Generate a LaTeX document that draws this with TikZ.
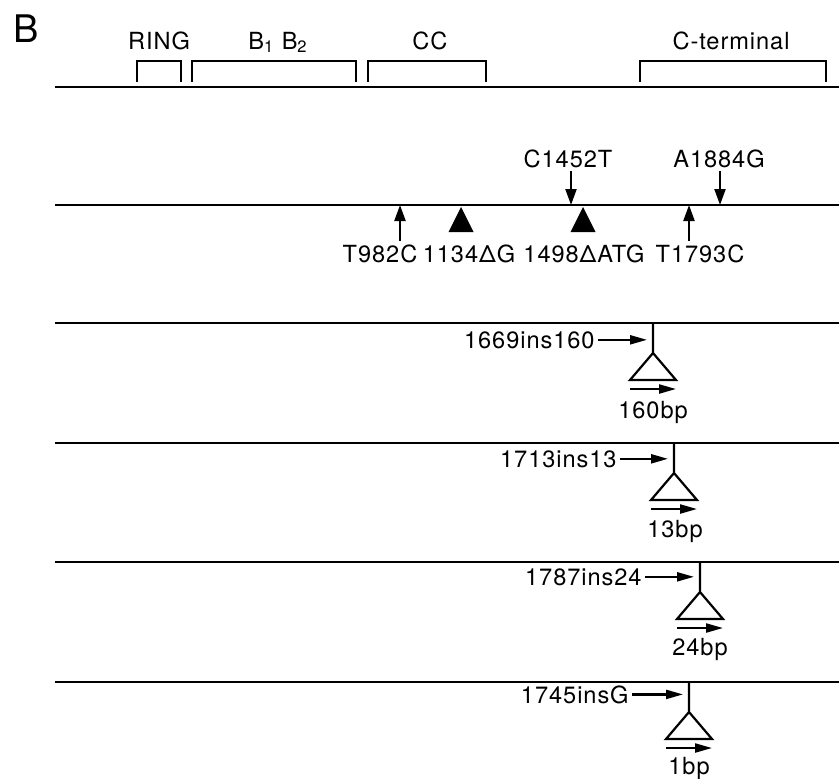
\documentclass[tikz,border=0pt]{standalone}
\usepackage{fontspec}
\usepackage{tikz}
\usetikzlibrary{arrows.meta, calc}
\newfontfamily\lblfont{TeX Gyre Heros}[LetterSpace=4]

\begin{document}
\begin{tikzpicture}[
    x=0.5pt, y=-0.5pt,
    seq/.style={line width=1.4pt},
    bracketline/.style={line width=0.8pt},
    lbl/.style={font=\lblfont\fontsize{11.8}{14}\selectfont, inner sep=1.5pt},
    mut/.style={line width=1.1pt, -{Triangle[length=8pt, width=5.5pt]}},
    ptr/.style={line width=1.1pt, -{Triangle[length=8.5pt, width=4.5pt]}},
    ins/.style={line width=1.1pt, line join=miter}
]
\useasboundingbox (0,0) rectangle (839,778);

% Panel letter
\node[font=\lblfont\fontsize{19}{22}\selectfont, anchor=base] (panel) at (26,42) {B};

% Domains
\draw[seq] (55,87) -- (839,87);
\draw[bracketline] (137,82) |- (181,61) -- (181,82);
\draw[bracketline] (192,82) |- (356,61) -- (356,82);
\draw[bracketline] (368,82) |- (486,61) -- (486,82);
\draw[bracketline] (640,82) |- (826,61) -- (826,82);
\node[lbl, anchor=base] (ring) at (159,49) {RING};
\node[lbl, anchor=base] (bbox) at (278,49) {B\textsubscript{1} B\textsubscript{2}};
\node[lbl, anchor=base] (cc) at (430,49) {CC};
\node[lbl, anchor=base] (cterm) at (731,49) {C-terminal};

% Point mutations and deletions
\draw[seq] (55,205) -- (839,205);
\coordinate (m982) at (400,205);
\coordinate (m1134) at (461,205);
\coordinate (m1452) at (571,205);
\coordinate (m1498) at (583,205);
\coordinate (m1793) at (689,205);
\coordinate (m1884) at (720,205);
\node[lbl, anchor=base] (c1452) at (568,167) {C1452T};
\node[lbl, anchor=base] (a1884) at (719,167) {A1884G};
\node[lbl, anchor=base] (t982) at (380,262) {T982C};
\node[lbl, anchor=base] (d1134) at (469,262) {1134ΔG};
\node[lbl, anchor=base] (d1498) at (584,262) {1498ΔATG};
\node[lbl, anchor=base] (t1793) at (700,262) {T1793C};
\draw[mut] (m1452 |- c1452.south) -- (m1452);
\draw[mut] (m1884 |- a1884.south) -- (m1884);
\draw[mut] (m982 |- t982.north) -- (m982);
\draw[mut] (m1793 |- t1793.north) -- (m1793);
\fill (m1134) ++(0,2) -- ++(-12.5,25) -- ++(25,0) -- cycle;
\fill (m1498) ++(0,2) -- ++(-12.5,25) -- ++(25,0) -- cycle;

% Insertion 1669ins160
\draw[seq] (55,323) -- (839,323);
\coordinate (p1669) at (653,323);
\draw[ins] (p1669) -- ++(0,30) -- ++(-23,27) -- ++(46,0) -- ++(-23,-27);
\node[lbl, anchor=base east] (i1669) at (598,348) {1669ins160};
\draw[ptr, shorten >=3pt] (i1669.east) -- (i1669.east -| p1669);
\draw[ptr] (p1669) ++(-23,66) -- ++(46,0);
\node[lbl, anchor=base] (bp160) at (653,418) {160bp};

% Insertion 1713ins13
\draw[seq] (55,443) -- (839,443);
\coordinate (p1713) at (674,443);
\draw[ins] (p1713) -- ++(0,30) -- ++(-23,27) -- ++(46,0) -- ++(-23,-27);
\node[lbl, anchor=base east] (i1713) at (620,467) {1713ins13};
\draw[ptr, shorten >=3pt] (i1713.east) -- (i1713.east -| p1713);
\draw[ptr] (p1713) ++(-23,66) -- ++(46,0);
\node[lbl, anchor=base] (bp13) at (675,537) {13bp};

% Insertion 1787ins24
\draw[seq] (55,562) -- (839,562);
\coordinate (p1787) at (700,562);
\draw[ins] (p1787) -- ++(0,30) -- ++(-23,27) -- ++(46,0) -- ++(-23,-27);
\node[lbl, anchor=base east] (i1787) at (645,585) {1787ins24};
\draw[ptr, shorten >=3pt] (i1787.east) -- (i1787.east -| p1787);
\draw[ptr] (p1787) ++(-23,66) -- ++(46,0);
\node[lbl, anchor=base] (bp24) at (700,655) {24bp};

% Insertion 1745insG
\draw[seq] (55,682) -- (839,682);
\coordinate (p1745) at (689,682);
\draw[ins] (p1745) -- ++(0,30) -- ++(-23,27) -- ++(46,0) -- ++(-23,-27);
\node[lbl, anchor=base east] (i1745) at (632,703) {1745insG};
\draw[ptr, shorten >=3pt] (i1745.east) -- (i1745.east -| p1745);
\draw[ptr] (p1745) ++(-23,66) -- ++(46,0);
\node[lbl, anchor=base] (bp1) at (689,774) {1bp};

\end{tikzpicture}
\end{document}
